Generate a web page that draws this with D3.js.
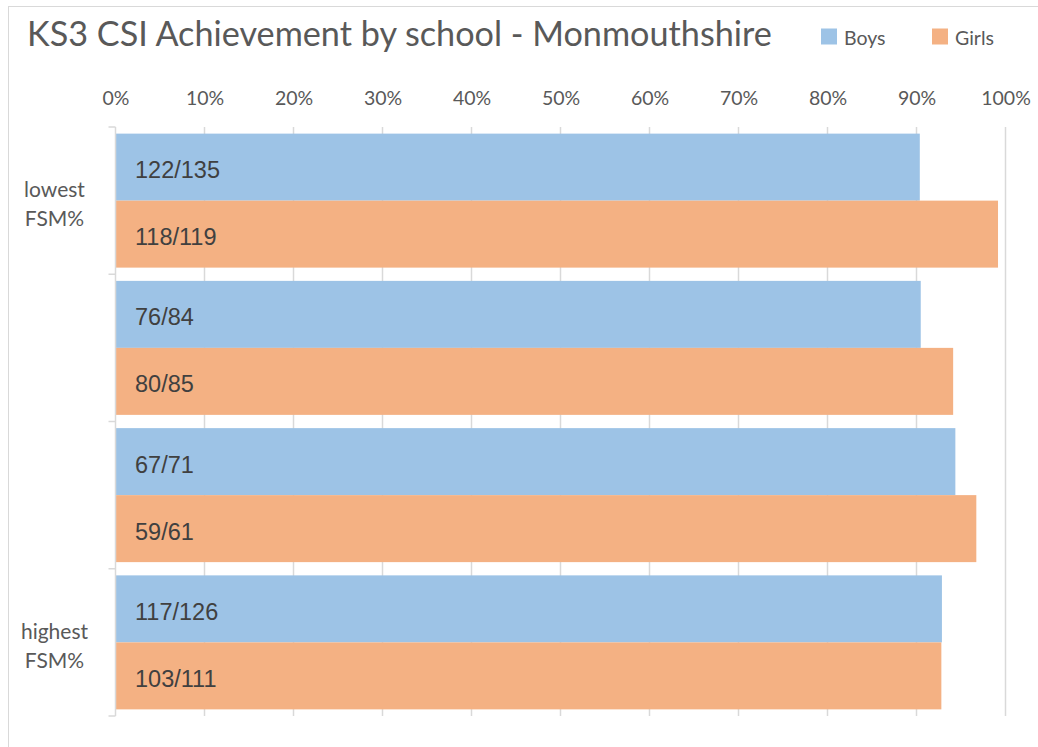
<!DOCTYPE html>
<html>
<head>
<meta charset="utf-8">
<script src="https://cdn.jsdelivr.net/npm/d3@7/dist/d3.min.js"></script>
<style>
  html, body { margin: 0; padding: 0; background: #fff; }
  svg { display: block; }
</style>
</head>
<body>
<svg id="chart" width="1038" height="747"></svg>
<script>
// Schools ordered from lowest to highest free-school-meal share
const schools = ["s1", "s2", "s3", "s4"];
const schoolLabels = [["lowest", "FSM%"], [], [], ["highest", "FSM%"]];
const seriesNames = ["Boys", "Girls"];
const seriesColors = ["#9DC3E6", "#F4B183"];
// Pupils achieving CSI / cohort size
const boysAchieved = [122, 76, 67, 117];
const boysCohort = [135, 84, 71, 126];
const girlsAchieved = [118, 80, 59, 103];
const girlsCohort = [119, 85, 61, 111];
const xTicks = [0, 0.1, 0.2, 0.3, 0.4, 0.5, 0.6, 0.7, 0.8, 0.9, 1.0];

const rows = schools.map((s, i) => ({
  school: s,
  bars: [
    { series: seriesNames[0], n: boysAchieved[i], d: boysCohort[i] },
    { series: seriesNames[1], n: girlsAchieved[i], d: girlsCohort[i] }
  ]
}));

const svg = d3.select("#chart");
const font = "Lato, 'Open Sans', sans-serif";
const grey = "#595959";

// chart frame
svg.append("rect")
  .attr("x", 8.5).attr("y", 6.5)
  .attr("width", 1040).attr("height", 750)
  .attr("fill", "none").attr("stroke", "#d9d9d9").attr("stroke-width", 1);

const plot = { left: 115.5, right: 1005.5, top: 127, bottom: 716 };

const x = d3.scaleLinear().domain([0, 1]).range([plot.left, plot.right]);
const y = d3.scaleBand().domain(schools)
  .range([plot.top, plot.bottom])
  .paddingInner(0.09).paddingOuter(0.045);
const ySub = d3.scaleBand().domain(seriesNames).range([0, y.bandwidth()]);

// vertical gridlines
svg.append("g")
  .selectAll("line")
  .data(xTicks.slice(1))
  .join("line")
  .attr("x1", d => x(d)).attr("x2", d => x(d))
  .attr("y1", plot.top).attr("y2", plot.bottom)
  .attr("stroke", "#d9d9d9").attr("stroke-width", 1.5);

// top percentage axis
const xAxis = d3.axisTop(x).tickValues(xTicks).tickFormat(d3.format(".0%")).tickSize(0).tickPadding(0);
const gx = svg.append("g").attr("transform", `translate(0, 105)`).call(xAxis);
gx.select(".domain").remove();
gx.selectAll("text")
  .attr("dy", 0)
  .attr("font-family", font).attr("font-size", 19.5).attr("fill", grey);

// bars
const groups = svg.append("g").selectAll("g")
  .data(rows).join("g")
  .attr("transform", d => `translate(0, ${y(d.school)})`);

groups.selectAll("rect")
  .data(d => d.bars).join("rect")
  .attr("x", x(0))
  .attr("y", d => ySub(d.series))
  .attr("width", d => x(d.n / d.d) - x(0))
  .attr("height", ySub.bandwidth())
  .attr("fill", (d, i) => seriesColors[i]);

groups.selectAll("text")
  .data(d => d.bars).join("text")
  .attr("x", x(0) + 19.5)
  .attr("y", d => ySub(d.series) + ySub.bandwidth() / 2 + 11)
  .attr("font-family", "'Liberation Sans', Arial, sans-serif")
  .attr("font-size", 23.5)
  .attr("fill", "#404040")
  .text(d => `${d.n}/${d.d}`);

// left category axis with boundary ticks
const ax = svg.append("g").attr("stroke", "#d9d9d9").attr("stroke-width", 1.5);
ax.append("line")
  .attr("x1", plot.left).attr("x2", plot.left)
  .attr("y1", plot.top).attr("y2", plot.bottom);
const bounds = d3.range(schools.length + 1).map(i => plot.top + i * (plot.bottom - plot.top) / schools.length);
ax.selectAll("line.tick")
  .data(bounds).join("line")
  .attr("class", "tick")
  .attr("x1", plot.left - 7).attr("x2", plot.left)
  .attr("y1", d => d).attr("y2", d => d);

// category labels
schools.forEach((s, i) => {
  const lines = schoolLabels[i];
  const cy = y(s) + y.bandwidth() / 2;
  const lh = 29;
  lines.forEach((t, j) => {
    svg.append("text")
      .attr("x", 54.5)
      .attr("y", cy - (lines.length - 1) * lh / 2 + j * lh + 11)
      .attr("text-anchor", "middle")
      .attr("font-family", font).attr("font-size", 21).attr("fill", grey)
      .text(t);
  });
});

// title
const title = svg.append("text")
  .attr("x", 27).attr("y", 46)
  .attr("font-family", font).attr("font-size", 31).attr("fill", grey)
  .text("KS3 CSI Achievement by school - Monmouthshire");
const tw = title.node().getComputedTextLength();
title.attr("font-size", 31 * 745 / tw);

// legend
const legend = svg.append("g");
const legendX = [821, 932];
seriesNames.forEach((name, i) => {
  legend.append("rect")
    .attr("x", legendX[i]).attr("y", 28.5)
    .attr("width", 16).attr("height", 16)
    .attr("fill", seriesColors[i]);
  legend.append("text")
    .attr("x", legendX[i] + 23).attr("y", 44.5)
    .attr("font-family", font).attr("font-size", 19.5).attr("fill", grey)
    .text(name);
});
</script>
</body>
</html>
